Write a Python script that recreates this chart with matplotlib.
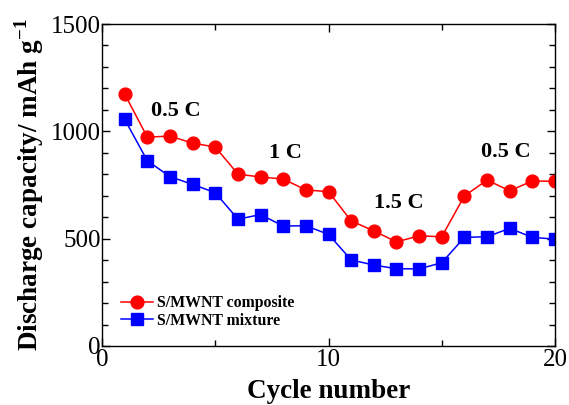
import matplotlib
matplotlib.use("Agg")
import matplotlib.pyplot as plt
from matplotlib.ticker import MultipleLocator

plt.rcParams['font.family'] = ['Liberation Serif', 'DejaVu Serif']
plt.rcParams['mathtext.fontset'] = 'custom'
plt.rcParams['mathtext.rm'] = 'Liberation Serif'
plt.rcParams['mathtext.bf'] = 'Liberation Serif:bold'

cycles = list(range(1, 21))
composite = [1174, 973, 978, 945, 927, 801, 787, 778, 727, 719,
             583, 536, 485, 513, 509, 699, 773, 723, 769, 767]
mixture = [1056, 863, 789, 753, 714, 591, 612, 559, 560, 520,
           401, 377, 360, 359, 388, 506, 509, 548, 506, 498]
rate_labels = ["0.5 C", "1 C", "1.5 C", "0.5 C"]
rate_pos = [(3.25, 1071), (8.12, 876), (13.11, 643), (17.84, 880)]

fig = plt.figure(figsize=(5.69, 4.05), dpi=100)
ax = fig.add_axes([0.1793, 0.1457, 0.9754 - 0.1793, 0.9407 - 0.1457])

ax.plot(cycles, composite, color='#ff0000', marker='o', markersize=9.2,
        linewidth=1.1, label='S/MWNT composite')
ax.plot(cycles, mixture, color='#0000ff', marker='s', markersize=8.6,
        linewidth=1.1, label='S/MWNT mixture')

for t, (x, y) in zip(rate_labels, rate_pos):
    ax.text(x, y, t, fontsize=16, fontweight='bold', ha='center', va='baseline')

ax.set_xlim(0, 20)
ax.set_ylim(0, 1500)
ax.xaxis.set_major_locator(MultipleLocator(10))
ax.xaxis.set_minor_locator(MultipleLocator(5))
ax.yaxis.set_major_locator(MultipleLocator(500))
ax.yaxis.set_minor_locator(MultipleLocator(100))
ax.tick_params(which='both', direction='in', top=True, right=True,
               labelsize=18, width=1)
ax.tick_params(axis='y', pad=1)
ax.tick_params(axis='x', pad=2)
ax.tick_params(which='major', length=6)
ax.tick_params(which='minor', length=4)
for s in ax.spines.values():
    s.set_linewidth(1)

ax.set_xlabel('Cycle number', fontsize=19.5, fontweight='bold', labelpad=6)
ax.set_ylabel(r'Discharge capacity/ mAh g$^{\mathbf{-1}}$', fontsize=19.5,
              fontweight='bold', labelpad=3)

leg = ax.legend(loc='upper left', bbox_to_anchor=(0.042, 0.158), frameon=False,
                prop={'size': 11.4, 'weight': 'bold'}, handlelength=2.0,
                handletextpad=0.3, borderpad=0, borderaxespad=0,
                labelspacing=0.1, markerscale=1.0)

fig.savefig('out.png', dpi=100)
